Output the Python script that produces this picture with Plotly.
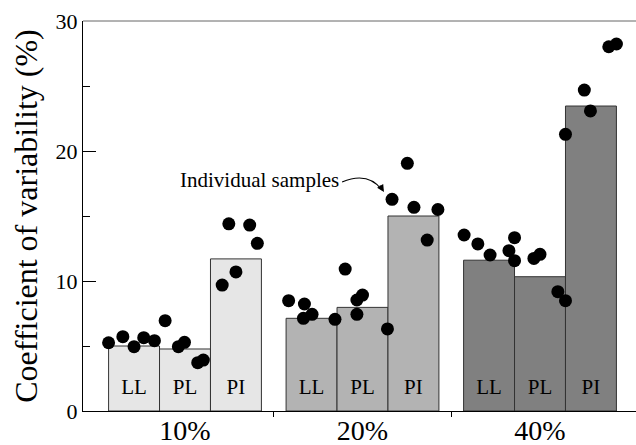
import plotly.graph_objects as go

# ---- data ----
groups = ["10%", "20%", "40%"]
bar_names = ["LL", "PL", "PI"]
bar_colors = ["#e6e6e6", "#b3b3b3", "#808080"]

mean_10 = [5.0, 4.77, 11.7]
mean_20 = [7.13, 7.97, 15.0]
mean_40 = [11.6, 10.33, 23.46]

# individual samples per bar (5 each), in order LL, PL, PI
samples_10 = [
    [5.25, 5.72, 4.95, 5.64, 5.41],
    [6.95, 4.95, 5.28, 3.72, 3.92],
    [9.69, 14.4, 10.7, 14.3, 12.9],
]
samples_20 = [
    [8.49, 7.13, 8.23, 7.44, 7.05],
    [10.92, 8.54, 7.44, 8.92, 6.31],
    [16.28, 19.05, 15.67, 13.15, 15.5],
]
samples_40 = [
    [13.54, 12.85, 12.0, 12.33, 13.33],
    [11.56, 11.74, 12.05, 9.18, 8.49],
    [21.28, 24.69, 23.08, 28.02, 28.23],
]
# horizontal jitter of each sample within its bar (fraction of bar width)
jitter_10 = [
    [-0.50, -0.22, 0.00, 0.19, 0.40],
    [-0.39, -0.13, -0.01, 0.25, 0.36],
    [-0.27, -0.14, 0.00, 0.27, 0.42],
]
jitter_20 = [
    [-0.45, -0.16, -0.14, 0.01, 0.46],
    [-0.34, -0.11, -0.11, 0.00, 0.49],
    [-0.42, -0.12, 0.01, 0.27, 0.48],
]
jitter_40 = [
    [-0.49, -0.22, 0.02, 0.39, 0.50],
    [-0.50, -0.12, 0.00, 0.35, 0.50],
    [-0.50, -0.13, -0.01, 0.35, 0.50],
]

means = [mean_10, mean_20, mean_40]
samples = [samples_10, samples_20, samples_40]
jitters = [jitter_10, jitter_20, jitter_40]

BW = 0.287  # bar width in group units
FONT = "Liberation Serif, Times New Roman, serif"

fig = go.Figure()

label_x, label_t = [], []
for gi, g in enumerate(groups):
    xs = [gi + (bi - 1) * BW for bi in range(3)]
    fig.add_trace(go.Bar(
        x=xs, y=means[gi], width=BW,
        marker=dict(color=bar_colors[gi], line=dict(color="#333333", width=1)),
        showlegend=False, hoverinfo="skip",
    ))
    label_x += xs
    label_t += bar_names

for gi, g in enumerate(groups):
    sx, sy = [], []
    for bi in range(3):
        cx = gi + (bi - 1) * BW
        for v, j in zip(samples[gi][bi], jitters[gi][bi]):
            sx.append(cx + j * BW)
            sy.append(v)
    fig.add_trace(go.Scatter(
        x=sx, y=sy, mode="markers",
        marker=dict(color="black", size=13, line=dict(width=0)),
        showlegend=False, hoverinfo="skip", cliponaxis=False,
    ))

fig.add_trace(go.Scatter(
    x=label_x, y=[1.75] * len(label_x), mode="text", text=label_t,
    textfont=dict(family=FONT, size=21, color="black"),
    showlegend=False, hoverinfo="skip", xaxis="x2",
))

xr = [-0.5746, 2.5408]
fig.update_layout(
    width=636, height=445,
    margin=dict(l=83, r=0, t=21, b=34, autoexpand=False),
    plot_bgcolor="white", paper_bgcolor="white",
    barmode="overlay",
    font=dict(family=FONT, color="black"),
    xaxis=dict(
        range=xr, showgrid=False, zeroline=False, automargin=False,
        showline=True, linecolor="black", linewidth=1,
        tickvals=[0.5, 1.5], ticktext=["", ""],
        ticks="outside", ticklen=5, tickcolor="black", tickwidth=1,
    ),
    xaxis2=dict(
        range=xr, overlaying="x", side="bottom", anchor="y", automargin=False,
        showgrid=False, zeroline=False, showline=False,
        tickvals=[0, 1, 2], ticktext=groups, ticks="",
        tickfont=dict(family=FONT, size=28, color="black"),
    ),
    yaxis=dict(
        range=[0, 30], showgrid=False, zeroline=False, automargin=False,
        showline=True, linecolor="black", linewidth=1,
        tickvals=[0, 10, 20, 30], ticks="inside", ticklen=13,
        tickcolor="black", tickwidth=1,
        minor=dict(tickvals=[5, 15, 25], ticks="inside", ticklen=7,
                   tickcolor="black", tickwidth=1),
        tickfont=dict(family=FONT, size=22, color="black"),
        title=dict(text="Coefficient of variability (%)",
                   font=dict(family=FONT, size=32, color="black"),
                   standoff=8),
    ),
    shapes=[
        dict(type="line", xref="paper", yref="paper", x0=0, x1=1, y0=1, y1=1,
             line=dict(color="#666666", width=1)),
        dict(type="path", xref="x", yref="y",
             path="M 0.885,17.62 Q 1.031,18.45 1.110,17.0",
             line=dict(color="black", width=1.2)),
    ],
    annotations=[
        dict(x=0.878, y=17.75, xref="x", yref="y", text="Individual samples",
             showarrow=False, xanchor="right", yanchor="middle",
             font=dict(family=FONT, size=21, color="black")),
        dict(x=1.121, y=16.85, xref="x", yref="y", text="",
             showarrow=True, arrowhead=2, arrowsize=1.2, arrowwidth=1.2,
             arrowcolor="black", ax=-5, ay=-8),
    ],
)

fig.write_html("out.html")
